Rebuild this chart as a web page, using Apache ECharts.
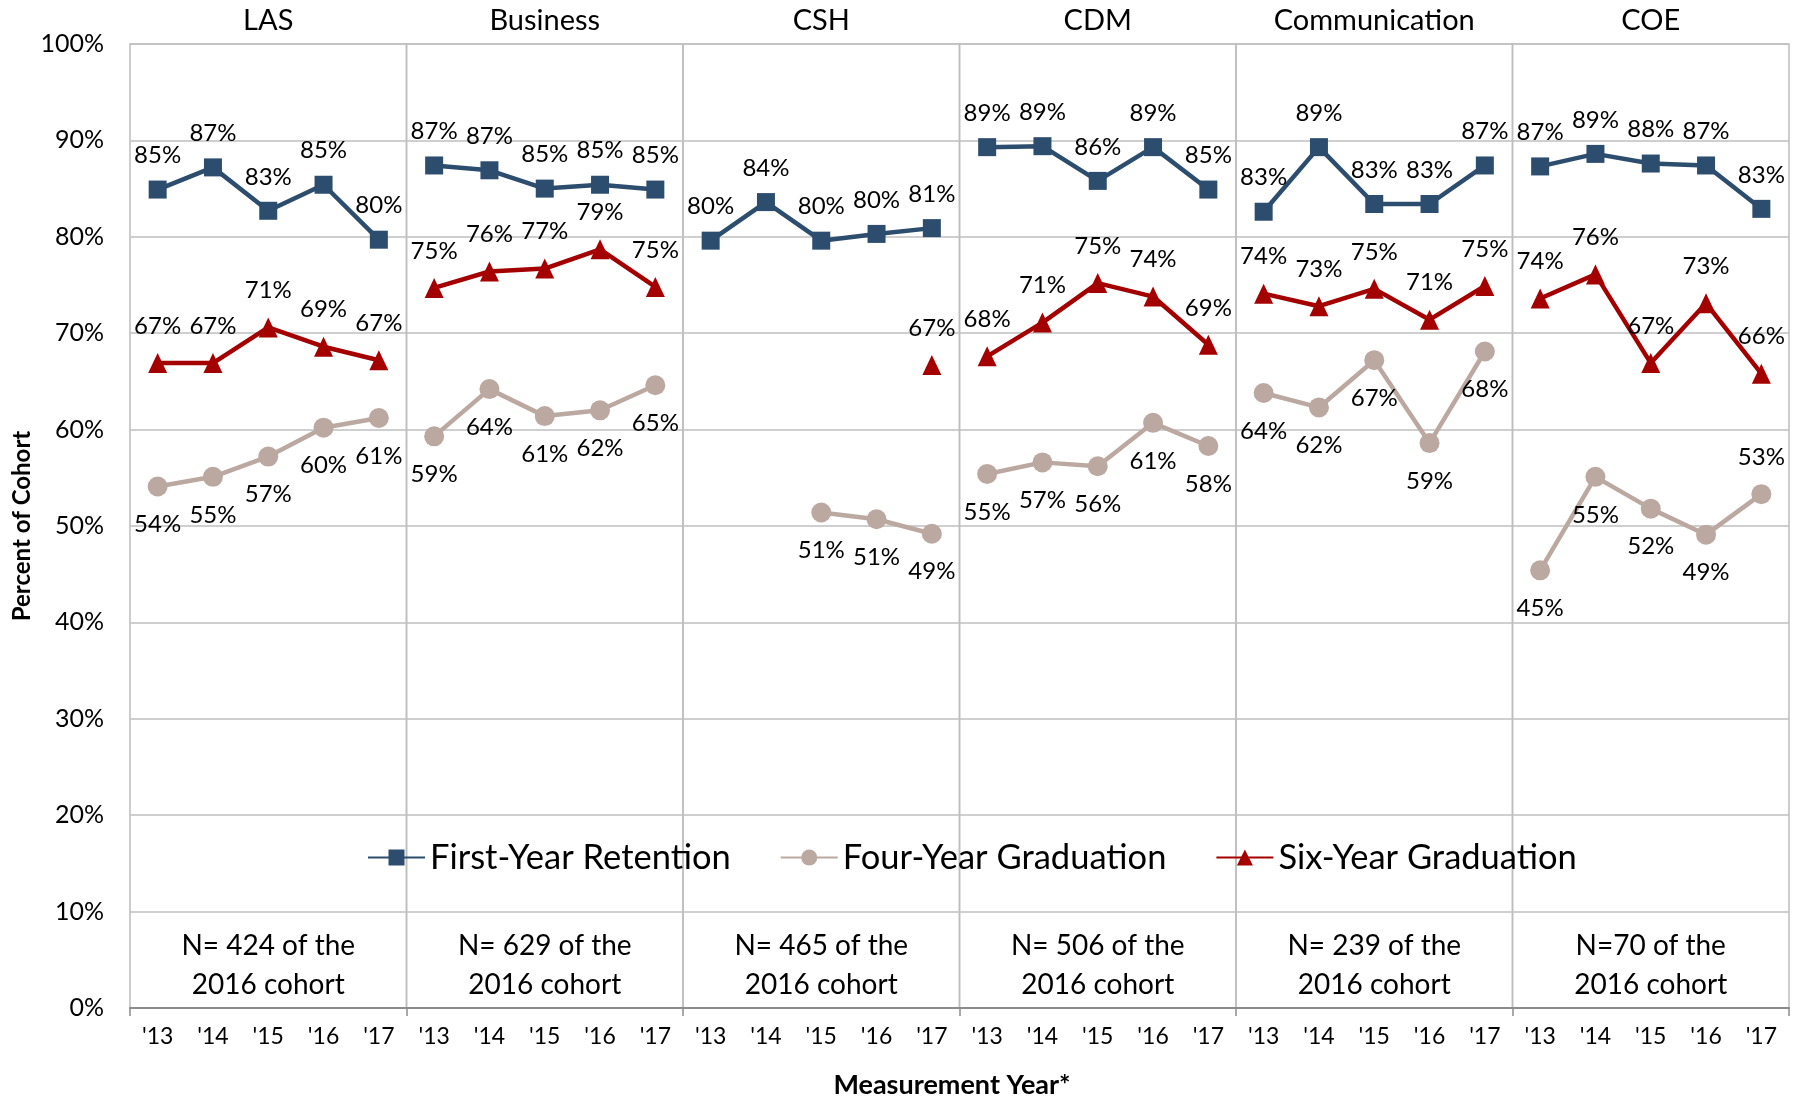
<!DOCTYPE html>
<html>
<head>
<meta charset="utf-8">
<title>Retention and Graduation by College</title>
<script src="https://cdn.jsdelivr.net/npm/echarts@6/dist/echarts.min.js"></script>
<style>
  html, body { margin: 0; padding: 0; background: #fff; }
  #chart { width: 1798px; height: 1098px; }
</style>
</head>
<body>
<div id="chart"></div>
<script>
// categories
const years = ["'13", "'14", "'15", "'16", "'17"];
const colleges = ["LAS", "Business", "CSH", "CDM", "Communication", "COE"];
const cohortNotes = [
  "N= 424 of the\n2016 cohort",
  "N= 629 of the\n2016 cohort",
  "N= 465 of the\n2016 cohort",
  "N= 506 of the\n2016 cohort",
  "N= 239 of the\n2016 cohort",
  "N=70 of the\n2016 cohort"
];
const yTicks = [0, 10, 20, 30, 40, 50, 60, 70, 80, 90, 100];

// series values, one row per college
const firstYearRetention = [
  [84.9, 87.2, 82.7, 85.4, 79.7],
  [87.4, 86.9, 85.0, 85.4, 84.9],
  [79.6, 83.6, 79.6, 80.3, 80.9],
  [89.3, 89.4, 85.8, 89.3, 84.9],
  [82.6, 89.3, 83.4, 83.4, 87.4],
  [87.3, 88.6, 87.6, 87.4, 82.9]
];
const fourYearGraduation = [
  [54.1, 55.1, 57.2, 60.2, 61.2],
  [59.3, 64.2, 61.4, 62.0, 64.6],
  [null, null, 51.4, 50.7, 49.2],
  [55.4, 56.6, 56.2, 60.7, 58.3],
  [63.8, 62.3, 67.2, 58.6, 68.1],
  [45.4, 55.1, 51.8, 49.1, 53.3]
];
const sixYearGraduation = [
  [66.9, 66.9, 70.6, 68.6, 67.2],
  [74.7, 76.4, 76.7, 78.7, 74.8],
  [null, null, null, null, 66.7],
  [67.6, 71.1, 75.2, 73.8, 68.8],
  [74.1, 72.8, 74.6, 71.4, 74.9],
  [73.6, 76.1, 66.9, 73.1, 65.8]
];
// four-year labels drawn above the point instead of below: [college, year]
const fourYearLabelsAbove = [[5, 4]];

const FONT = "Lato, 'Noto Sans', sans-serif";
const BLUE = "#2c4d6e";
const TAUPE = "#bba9a1";
const RED = "#a50000";

const plotLeft = 130;
const plotTop = 44;
const plotBottom = 1008;
const panelW = (1789 - plotLeft) / colleges.length;

const chart = echarts.init(document.getElementById("chart"));

const grids = [], xAxes = [], yAxes = [], series = [], graphics = [];

colleges.forEach(function (college, i) {
  grids.push({
    left: plotLeft + i * panelW,
    top: plotTop,
    width: panelW,
    height: plotBottom - plotTop,
    show: true,
    borderColor: "#bdbdbd",
    borderWidth: 1.5,
    backgroundColor: "transparent"
  });
  xAxes.push({
    type: "category",
    gridIndex: i,
    data: years,
    boundaryGap: true,
    axisLine: { lineStyle: { color: "#8c8c8c", width: 2 } },
    axisTick: {
      show: true,
      length: 8,
      interval: function (idx) { return idx === 0; },
      lineStyle: { color: "#8c8c8c", width: 1.5 }
    },
    axisLabel: { color: "#000", fontSize: 23, fontFamily: FONT, margin: 17 },
    splitLine: { show: false }
  });
  yAxes.push({
    type: "value",
    gridIndex: i,
    min: yTicks[0],
    max: yTicks[yTicks.length - 1],
    interval: yTicks[1] - yTicks[0],
    name: i === 0 ? "Percent of Cohort" : "",
    nameLocation: "middle",
    nameGap: 96,
    nameTextStyle: { color: "#000", fontSize: 24, fontWeight: "bold", fontFamily: FONT },
    axisLine: { show: false },
    axisTick: { show: false },
    axisLabel: {
      show: i === 0,
      formatter: "{value}%",
      color: "#000",
      fontSize: 25,
      fontFamily: FONT,
      margin: 26
    },
    splitLine: { lineStyle: { color: "#bfbfbf", width: 1.5 } }
  });

  const labelBase = { show: true, color: "#000", fontSize: 24, fontFamily: FONT,
    formatter: function (p) { return Math.round(p.value) + "%"; } };

  series.push({
    name: "First-Year Retention",
    type: "line",
    xAxisIndex: i, yAxisIndex: i,
    data: firstYearRetention[i],
    symbol: "rect", symbolSize: 18,
    lineStyle: { color: BLUE, width: 4.5 },
    itemStyle: { color: BLUE },
    label: Object.assign({ position: "top", distance: 13 }, labelBase),
    emphasis: { disabled: true },
    animation: false
  });
  series.push({
    name: "Four-Year Graduation",
    type: "line",
    xAxisIndex: i, yAxisIndex: i,
    data: fourYearGraduation[i].map(function (v, j) {
      const above = fourYearLabelsAbove.some(function (a) { return a[0] === i && a[1] === j; });
      return above ? { value: v, label: { position: "top", distance: 15 } } : v;
    }),
    symbol: "circle", symbolSize: 20,
    lineStyle: { color: TAUPE, width: 4.5 },
    itemStyle: { color: TAUPE },
    label: Object.assign({ position: "bottom", distance: 16 }, labelBase),
    emphasis: { disabled: true },
    animation: false
  });
  series.push({
    name: "Six-Year Graduation",
    type: "line",
    xAxisIndex: i, yAxisIndex: i,
    data: sixYearGraduation[i],
    symbol: "triangle", symbolSize: [19, 20],
    lineStyle: { color: RED, width: 4.5 },
    itemStyle: { color: RED },
    label: Object.assign({ position: "top", distance: 15 }, labelBase),
    emphasis: { disabled: true },
    animation: false
  });

  const cx = plotLeft + (i + 0.5) * panelW;
  graphics.push({
    type: "text", x: cx, y: 21, silent: true,
    style: { text: college, fill: "#000", fontSize: 29, fontFamily: FONT,
      align: "center", verticalAlign: "middle" }
  });
  graphics.push({
    type: "text", x: cx, y: 965, silent: true,
    style: { text: cohortNotes[i], fill: "#000", fontSize: 28, fontFamily: FONT,
      lineHeight: 39, align: "center", verticalAlign: "middle" }
  });
});

graphics.push({
  type: "text", x: 952, y: 1085, silent: true,
  style: { text: "Measurement Year*", fill: "#000", fontSize: 27, fontWeight: "bold",
    fontFamily: FONT, align: "center", verticalAlign: "middle" }
});

chart.setOption({
  animation: false,
  backgroundColor: "#fff",
  grid: grids,
  xAxis: xAxes,
  yAxis: yAxes,
  legend: {
    data: ["First-Year Retention", "Four-Year Graduation", "Six-Year Graduation"],
    left: 362,
    top: 835,
    itemWidth: 57,
    itemHeight: 20,
    itemGap: 49,
    textStyle: { color: "#000", fontSize: 34.5, fontFamily: FONT },
    selectedMode: false
  },
  series: series,
  graphic: graphics
});
</script>
</body>
</html>
